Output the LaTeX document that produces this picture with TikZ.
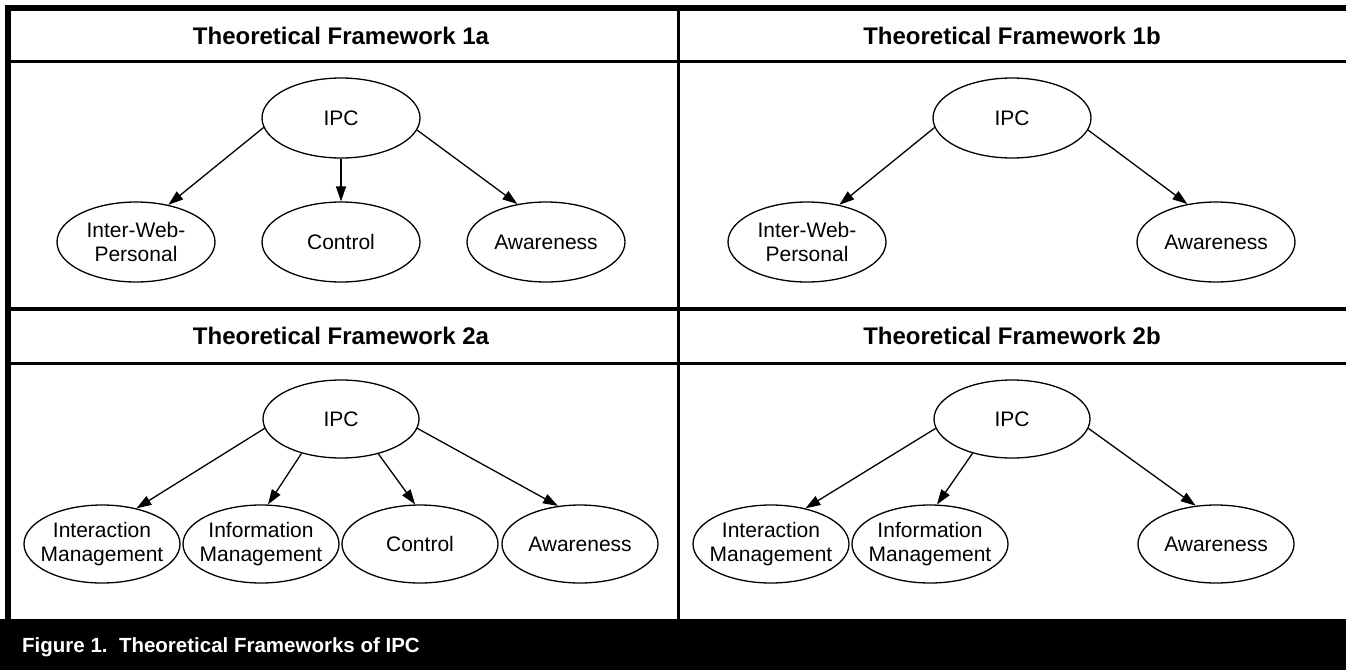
\documentclass[tikz,border=0pt]{standalone}
\usepackage{fontspec}
\setmainfont{Liberation Sans}
\usetikzlibrary{shapes.geometric,arrows.meta}
\begin{document}
\begin{tikzpicture}[x=1pt,y=-1pt,
  ell/.style={ellipse,draw,line width=1.3pt,minimum width=158pt,minimum height=80pt,inner xsep=-30pt,inner ysep=-12pt,align=center,font=\fontsize{21}{23.5}\selectfont},
  ellb/.style={ell,minimum width=156pt,minimum height=78pt},
  arr/.style={-{Triangle[length=15pt,width=10pt]},line width=1.3pt},
  hdr/.style={anchor=base,inner sep=0pt,font=\fontsize{24}{28}\selectfont\bfseries},
  figcap/.style={anchor=base west,inner sep=0pt,text=white,font=\fontsize{20.5}{24}\selectfont\bfseries}]
\useasboundingbox (0,0) rectangle (1346,670);
% frame
\fill (0,619) rectangle (1346,670);
\fill (5,5) rectangle (1346,11);
\fill (5,5) rectangle (11,619);
\fill (11,60) rectangle (1346,63);
\fill (11,307) rectangle (1346,310.5);
\fill (11,361.5) rectangle (1346,364.5);
\fill (677,11) rectangle (680.3,619);
% headers
\node[hdr] (h1a) at (341,44.5) {Theoretical Framework 1a};
\node[hdr] (h1b) at (1012,44.5) {Theoretical Framework 1b};
\node[hdr] (h2a) at (341,344) {Theoretical Framework 2a};
\node[hdr] (h2b) at (1012,344) {Theoretical Framework 2b};
\node[figcap] (caption) at (22,652) {Figure 1.\ \ Theoretical Frameworks of IPC};
% 1a
\node[ell] (ipc1a) at (341,118) {IPC};
\node[ell] (iwp1a) at (136,242) {Inter-Web-\\Personal};
\node[ell] (ctl1a) at (341,242) {Control};
\node[ell] (awa1a) at (546,242) {Awareness};
\draw[arr] (ipc1a.187) -- (iwp1a.49);
\draw[arr] (ipc1a.south) -- (ctl1a.north);
\draw[arr] (ipc1a.351) -- (awa1a.127);
% 1b
\node[ell] (ipc1b) at (1012,118) {IPC};
\node[ell] (iwp1b) at (807,242) {Inter-Web-\\Personal};
\node[ell] (awa1b) at (1216,242) {Awareness};
\draw[arr] (ipc1b.187) -- (iwp1b.49);
\draw[arr] (ipc1b.351) -- (awa1b.127);
% 2a
\node[ellb] (ipc2a) at (341,419) {IPC};
\node[ellb] (int2a) at (102,544) {Interaction\\Management};
\node[ellb] (inf2a) at (261,544) {Information\\Management};
\node[ellb] (ctl2a) at (420,544) {Control};
\node[ellb] (awa2a) at (580,544) {Awareness};
\draw[arr] (ipc2a.187) -- (int2a.46);
\draw[arr] (ipc2a.221) -- (inf2a.80);
\draw[arr] (ipc2a.317) -- (ctl2a.97);
\draw[arr] (ipc2a.353) -- (awa2a.120);
% 2b
\node[ellb] (ipc2b) at (1012,419) {IPC};
\node[ellb] (int2b) at (771,544) {Interaction\\Management};
\node[ellb] (inf2b) at (930,544) {Information\\Management};
\node[ellb] (awa2b) at (1216,544) {Awareness};
\draw[arr] (ipc2b.187) -- (int2b.46);
\draw[arr] (ipc2b.221) -- (inf2b.80);
\draw[arr] (ipc2b.353) -- (awa2b.118);
\end{tikzpicture}
\end{document}
